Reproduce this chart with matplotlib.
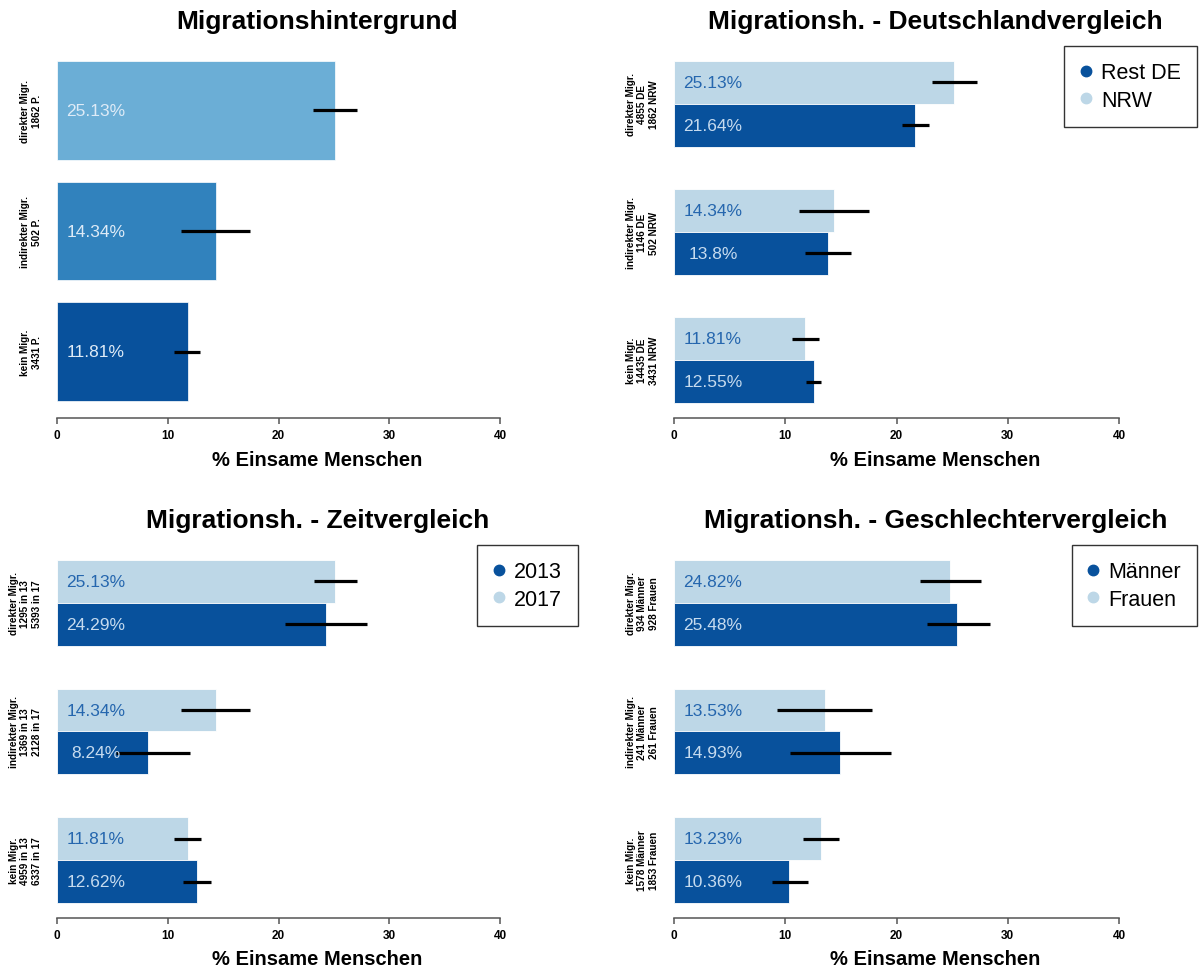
import matplotlib.pyplot as plt
from matplotlib.lines import Line2D
import numpy as np

plt.rcParams['font.family'] = ['Liberation Sans', 'DejaVu Sans']

# colours (RColorBrewer Blues 5)
c_light = '#BDD7E7'
c_dark = '#08519C'
c_single = ['#6BAED6', '#3182BD', '#08519C']

# --- panel 1: Migrationshintergrund
p1_labels = ['direkter Migr.\n1862 P.', 'indirekter Migr.\n502 P.', 'kein Migr.\n3431 P.']
p1_vals = [25.13, 14.34, 11.81]
p1_lo = [23.1, 11.2, 10.6]
p1_hi = [27.1, 17.4, 12.9]

# --- panel 2: Deutschlandvergleich (NRW = light, Rest DE = dark)
p2_labels = ['direkter Migr.\n4855 DE\n1862 NRW', 'indirekter Migr.\n1146 DE\n502 NRW',
             'kein Migr.\n14435 DE\n3431 NRW']
p2_light = [25.13, 14.34, 11.81]
p2_light_lo = [23.2, 11.2, 10.6]
p2_light_hi = [27.2, 17.5, 13.0]
p2_dark = [21.64, 13.8, 12.55]
p2_dark_lo = [20.5, 11.8, 11.9]
p2_dark_hi = [22.9, 15.9, 13.2]

# --- panel 3: Zeitvergleich (2017 = light, 2013 = dark)
p3_labels = ['direkter Migr.\n1295 in 13\n5393 in 17', 'indirekter Migr.\n1369 in 13\n2128 in 17',
             'kein Migr.\n4959 in 13\n6337 in 17']
p3_light = [25.13, 14.34, 11.81]
p3_light_lo = [23.2, 11.2, 10.6]
p3_light_hi = [27.1, 17.4, 13.0]
p3_dark = [24.29, 8.24, 12.62]
p3_dark_lo = [20.6, 5.3, 11.4]
p3_dark_hi = [28.0, 12.0, 13.9]

# --- panel 4: Geschlechtervergleich (Frauen = light, Maenner = dark)
p4_labels = ['direkter Migr.\n934 Männer\n928 Frauen', 'indirekter Migr.\n241 Männer\n261 Frauen',
             'kein Migr.\n1578 Männer\n1853 Frauen']
p4_light = [24.82, 13.53, 13.23]
p4_light_lo = [22.1, 9.3, 11.6]
p4_light_hi = [27.6, 17.8, 14.8]
p4_dark = [25.48, 14.93, 10.36]
p4_dark_lo = [22.7, 10.4, 8.8]
p4_dark_hi = [28.4, 19.5, 12.0]

W, H = 1201, 970
fig = plt.figure(figsize=(W / 100, H / 100), dpi=100)


def make_ax(x0, y_top, y_bot, width):
    return fig.add_axes([x0 / W, 1 - y_bot / H, width / W, (y_bot - y_top) / H])


def style(ax, title, h_px):
    ax.set_xlim(0, 47)
    for s in ['top', 'right', 'left']:
        ax.spines[s].set_visible(False)
    ax.spines['bottom'].set_bounds(0, 40)
    ax.spines['bottom'].set_color('#555555')
    ax.spines['bottom'].set_linewidth(1.1)
    ax.set_xticks([0, 10, 20, 30, 40])
    ax.tick_params(axis='x', length=4.5, width=1.1, color='#555555', labelsize=8.5, pad=3.5)
    for t in ax.get_xticklabels():
        t.set_fontweight('bold')
    ax.tick_params(axis='y', length=0, pad=11, labelsize=7.2)
    for t in ax.get_yticklabels():
        t.set_rotation(90)
        t.set_fontweight('bold')
        t.set_ha('right')
        t.set_va('center')
        t.set_multialignment('center')
    ax.text(0.5, 1 + 25 / h_px, title, transform=ax.transAxes, ha='center', va='center',
            fontsize=19, fontweight='bold')
    ax.text(0.5, -41 / h_px, '% Einsame Menschen', transform=ax.transAxes, ha='center',
            va='center', fontsize=14.5, fontweight='bold')


# panel 1
ax1 = make_ax(57, 47, 419, 47 * 11.08)
space = 0.22
pos = np.arange(3) * (1 + space) + 0.5
ax1.barh(pos, p1_vals, height=1, color=c_single, edgecolor='white', linewidth=0.5)
ax1.hlines(pos, p1_lo, p1_hi, color='black', lw=2.3, zorder=3)
for y, v in zip(pos, p1_vals):
    ax1.text(3.5, y, f'{v:g}%', ha='center', va='center', fontsize=12.5, color='#DEEBF7')
ax1.set_yticks(pos)
ax1.set_yticklabels(p1_labels)
ax1.set_ylim(3 + 2 * space + 0.172, -0.152)
style(ax1, 'Migrationshintergrund', 372)


def grouped(ax, labels, light, llo, lhi, dark, dlo, dhi, title, leg, h_px):
    g = np.arange(3) * 3
    yl = g + 0.5
    yd = g + 1.5
    ax.barh(yl, light, height=1, color=c_light, edgecolor='white', linewidth=0.6)
    ax.barh(yd, dark, height=1, color=c_dark, edgecolor='white', linewidth=0.6)
    ax.hlines(yl, llo, lhi, color='black', lw=2.3, zorder=3)
    ax.hlines(yd, dlo, dhi, color='black', lw=2.3, zorder=3)
    for y, v in zip(yl, light):
        ax.text(3.5, y, f'{v:g}%', ha='center', va='center', fontsize=12.5, color='#2566AE')
    for y, v in zip(yd, dark):
        ax.text(3.5, y, f'{v:g}%', ha='center', va='center', fontsize=12.5, color='#C6DBEF')
    ax.set_yticks(g + 1)
    ax.set_yticklabels(labels)
    ax.set_ylim(8 + 0.351, -0.351)
    style(ax, title, h_px)
    handles = [Line2D([], [], marker='o', ls='none', color=c_dark, markersize=7.5),
               Line2D([], [], marker='o', ls='none', color=c_light, markersize=7.5)]
    lg = ax.legend(handles, leg, loc='upper right', bbox_to_anchor=(1, 1), borderaxespad=0,
                   fontsize=15.5, frameon=True, fancybox=False, edgecolor='black',
                   handletextpad=0.45, labelspacing=0.3, borderpad=0.75, handlelength=0.5)
    lg.get_frame().set_linewidth(1)


ax2 = make_ax(674, 47, 419, 47 * 11.125)
grouped(ax2, p2_labels, p2_light, p2_light_lo, p2_light_hi, p2_dark, p2_dark_lo, p2_dark_hi,
        'Migrationsh. - Deutschlandvergleich', ['Rest DE', 'NRW'], 372)

ax3 = make_ax(57, 546, 919, 47 * 11.08)
grouped(ax3, p3_labels, p3_light, p3_light_lo, p3_light_hi, p3_dark, p3_dark_lo, p3_dark_hi,
        'Migrationsh. - Zeitvergleich', ['2013', '2017'], 373)

ax4 = make_ax(674, 546, 919, 47 * 11.125)
grouped(ax4, p4_labels, p4_light, p4_light_lo, p4_light_hi, p4_dark, p4_dark_lo, p4_dark_hi,
        'Migrationsh. - Geschlechtervergleich', ['Männer', 'Frauen'], 373)

plt.savefig('out.png', dpi=100)
